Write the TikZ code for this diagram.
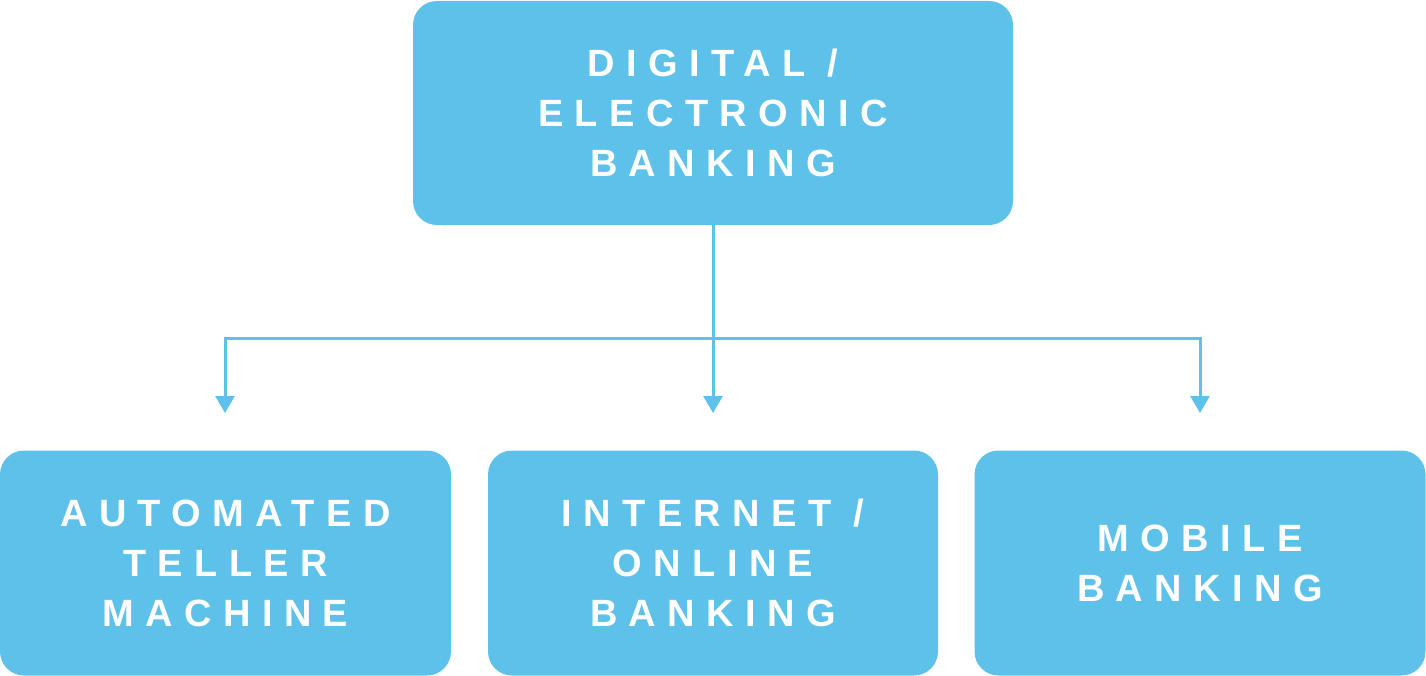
\documentclass[tikz,border=0pt]{standalone}
\usepackage{fontspec}
\setmainfont{Liberation Sans}[LetterSpace=30]
\usetikzlibrary{arrows.meta}
\definecolor{boxblue}{HTML}{5DC1EA}
\begin{document}
\begin{tikzpicture}[x=1pt,y=1pt,
  box/.style={fill=boxblue,rounded corners=24pt,inner sep=0pt,align=center,text=white,
    font=\fontsize{38}{50}\selectfont\bfseries},
  conn/.style={draw=boxblue,line width=3pt,-{Triangle[width=19pt,length=17pt]}}]
\useasboundingbox (0,0) rectangle (1426,-676);
\node[box,minimum width=600pt,minimum height=224pt] (top) at (713,-113) {DIGITAL /\\ELECTRONIC\\BANKING};
\node[box,minimum width=451pt,minimum height=225pt] (b1) at (225.5,-563) {AUTOMATED\\TELLER\\MACHINE};
\node[box,minimum width=450pt,minimum height=225pt] (b2) at (713,-563) {INTERNET /\\ONLINE\\BANKING};
\node[box,minimum width=451pt,minimum height=225pt] (b3) at (1200,-563) {MOBILE\\BANKING};
\coordinate (j) at (713,-338);
\coordinate (t1) at (225,-413);
\coordinate (t2) at (713,-413);
\coordinate (t3) at (1200,-413);
\draw[conn] (top.south) -- (t2);
\draw[conn] (j) -| (t1);
\draw[conn] (j) -| (t3);
\end{tikzpicture}
\end{document}
